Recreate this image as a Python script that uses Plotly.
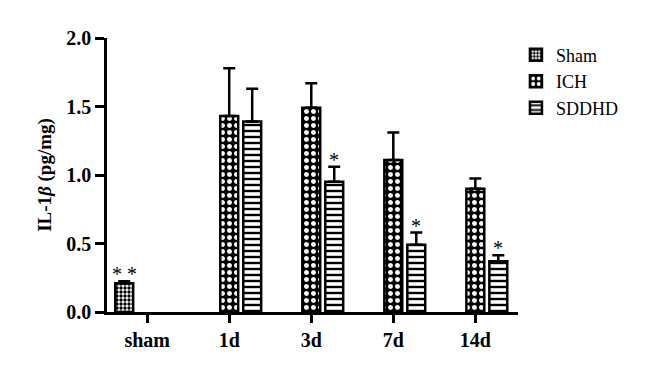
import plotly.graph_objects as go

categories = ["sham", "1d", "3d", "7d", "14d"]
series_names = ["Sham", "ICH", "SDDHD"]
sham_vals = [0.21, None, None, None, None]
sham_err = [0.015, None, None, None, None]
ich_vals = [None, 1.43, 1.49, 1.11, 0.90]
ich_err = [None, 0.35, 0.18, 0.20, 0.075]
sddhd_vals = [None, 1.39, 0.95, 0.49, 0.37]
sddhd_err = [None, 0.24, 0.11, 0.09, 0.045]
sham_marks = ["* *", "", "", "", ""]
sddhd_marks = ["", "", "*", "*", "*"]

FONT = "Liberation Serif"
W, H = 652, 368
ML, MR, MT, MB = 99, 142, 30, 64
XR = [-0.49, 4.52]
BARGAP = 0.16

patterns = [
    dict(shape=".", fgcolor="black", bgcolor="white", size=4, solidity=0.55, fillmode="replace"),
    dict(shape=".", fgcolor="white", bgcolor="black", size=7, solidity=0.4, fillmode="replace"),
    dict(shape="-", fgcolor="black", bgcolor="white", size=6, solidity=0.4, fillmode="replace"),
]
vals = [sham_vals, ich_vals, sddhd_vals]
errs = [sham_err, ich_err, sddhd_err]

fig = go.Figure()
for i, name in enumerate(series_names):
    fig.add_trace(go.Bar(
        name=name, x=categories, y=vals[i],
        marker=dict(color="white", pattern=patterns[i], line=dict(color="black", width=2.5)),
        error_y=dict(type="data", array=errs[i], arrayminus=[0 if e is not None else None for e in errs[i]],
                     symmetric=False, color="black", thickness=2.5, width=6),
    ))

# star annotations
px_per_cat = (W - ML - MR) / (XR[1] - XR[0])
slot = (1 - BARGAP) * px_per_cat / 3
annotations = []
for j, c in enumerate(categories):
    if sham_marks[j]:
        annotations.append(dict(x=c, y=sham_vals[j] + sham_err[j], text=sham_marks[j], showarrow=False,
                                xshift=-slot, yanchor="bottom", yshift=-6,
                                font=dict(family=FONT, size=20, color="black")))
    if sddhd_marks[j]:
        annotations.append(dict(x=c, y=sddhd_vals[j] + sddhd_err[j], text=sddhd_marks[j], showarrow=False,
                                xshift=slot, yanchor="bottom", yshift=-6,
                                font=dict(family=FONT, size=20, color="black")))

fig.update_layout(
    width=W, height=H,
    margin=dict(l=ML, r=MR, t=MT, b=MB),
    barmode="group", bargap=BARGAP, bargroupgap=0.22,
    plot_bgcolor="white", paper_bgcolor="white",
    font=dict(family=FONT, color="black"),
    showlegend=True,
    legend=dict(x=0.995, y=1.005, xanchor="left", yanchor="top",
                font=dict(family=FONT, size=18, color="black"),
                itemwidth=30, bgcolor="rgba(0,0,0,0)"),
    annotations=annotations,
)
fig.update_xaxes(range=XR, showline=True, linecolor="black", linewidth=2.5,
                 ticks="outside", ticklen=8, tickwidth=2.5, tickcolor="black",
                 tickfont=dict(family=FONT, size=20, color="black"),
                 tickprefix="<b>", ticksuffix="</b>", showgrid=False)
fig.update_yaxes(range=[0, 2.0], dtick=0.5, tickformat=".1f", showline=True, linecolor="black", linewidth=2.5,
                 ticks="outside", ticklen=9, tickwidth=2.5, tickcolor="black",
                 tickfont=dict(family=FONT, size=20, color="black"),
                 tickprefix="<b>", ticksuffix="</b>", showgrid=False, zeroline=False,
                 title=dict(text="<b>IL-1<i>β</i> (pg/mg)</b>", standoff=10,
                            font=dict(family=FONT, size=19, color="black")))

fig.write_html("out.html")
